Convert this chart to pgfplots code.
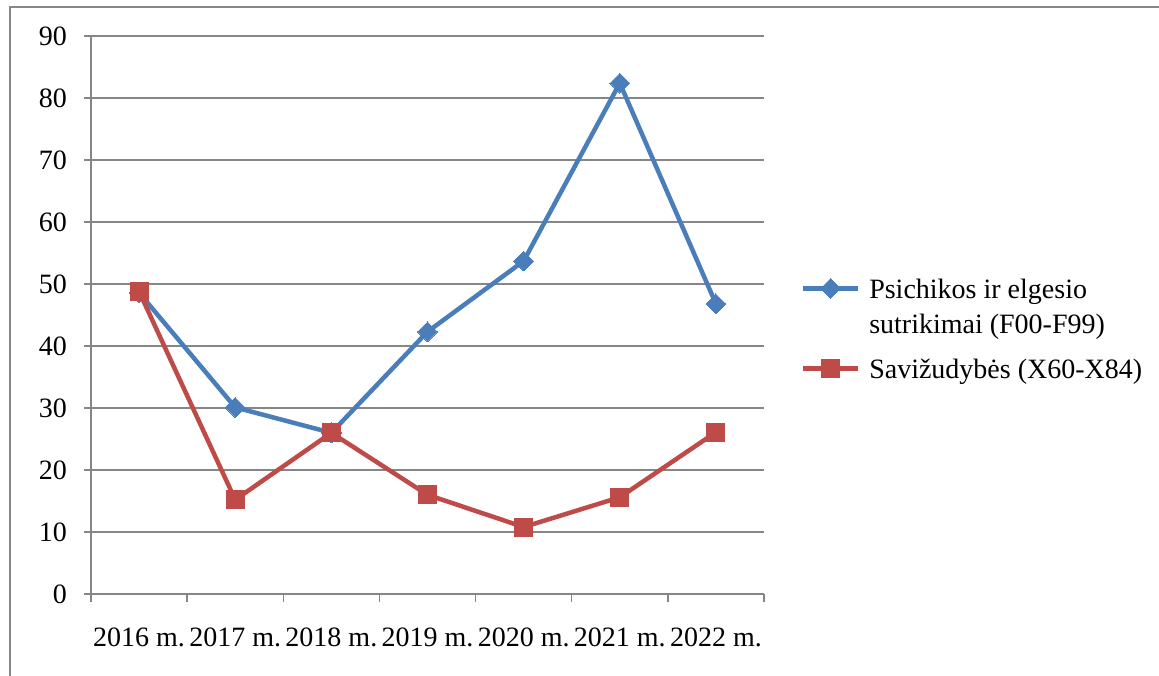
\documentclass[border=0pt]{standalone}
\usepackage{fontspec}
\setmainfont{Liberation Serif}
\usepackage{pgfplots}
\pgfplotsset{compat=1.18}
\definecolor{exblue}{RGB}{74,126,187}
\definecolor{exred}{RGB}{190,75,72}
\definecolor{exgrid}{RGB}{134,134,134}
\begin{document}
\begin{tikzpicture}[font=\fontsize{14}{17.5}\selectfont]
\useasboundingbox (0,0) rectangle (579.5pt,337.5pt);
\draw[exgrid,line width=1pt] (5pt,-2pt) -- (5pt,334pt) -- (582pt,334pt);
\begin{axis}[
  at={(45.5pt,40.5pt)}, anchor=south west,
  scale only axis, width=336.5pt, height=279pt,
  xmin=0.5, xmax=7.5, ymin=0, ymax=90,
  ytick={0,10,...,90},
  xtick={1,...,7},
  xticklabels={2016 m.,2017 m.,2018 m.,2019 m.,2020 m.,2021 m.,2022 m.},
  minor xtick={0.5,1.5,...,7.5},
  major x tick style={draw=none},
  minor x tick style={exgrid,line width=0.75pt},
  tick align=outside,
  minor tick length=4pt,
  major tick length=3.5pt,
  y tick style={exgrid,line width=0.75pt},
  axis x line*=bottom, axis y line*=left,
  axis line style={exgrid,line width=0.75pt,-},
  ymajorgrids, grid style={exgrid,line width=0.75pt},
  /pgf/number format/assume math mode=true,
  yticklabel style={xshift=-5pt},
  xticklabel style={yshift=-10pt},
  legend style={at={(1.054,0.582)}, anchor=north west, draw=none, fill=none,
    inner sep=0pt, row sep=22.3pt, column sep=0pt,
    cells={anchor=base west, inner sep=0pt},
    font=\fontsize{14}{17.5}\selectfont},
  legend cell align=left,
  legend image code/.code={\draw[mark repeat=2,mark phase=2,#1] plot coordinates {(0pt,-0.5pt)(13.75pt,-0.5pt)(27.5pt,-0.5pt)};},
  clip=false,
]
\addplot[exblue, line width=2.25pt, mark=square*, mark size=3.5pt,
  mark options={rotate=45, fill=exblue, draw=exblue, line width=0pt}]
  coordinates {(1,48.6)(2,30.1)(3,26.0)(4,42.3)(5,53.7)(6,82.4)(7,46.8)};
\addlegendentry{\hspace{2.5pt}\begin{tabular}[t]{@{}l@{}}Psichikos ir elgesio\\sutrikimai (F00-F99)\end{tabular}}
\addplot[exred, line width=2.25pt, mark=square*, mark size=4.5pt,
  mark options={fill=exred, draw=exred, line width=0pt}]
  coordinates {(1,48.8)(2,15.2)(3,26.0)(4,16.0)(5,10.8)(6,15.6)(7,26.1)};
\addlegendentry{\hspace{2.5pt}\begin{tabular}[t]{@{}l@{}}Savižudybės (X60-X84)\end{tabular}}
\end{axis}
\end{tikzpicture}
\end{document}
